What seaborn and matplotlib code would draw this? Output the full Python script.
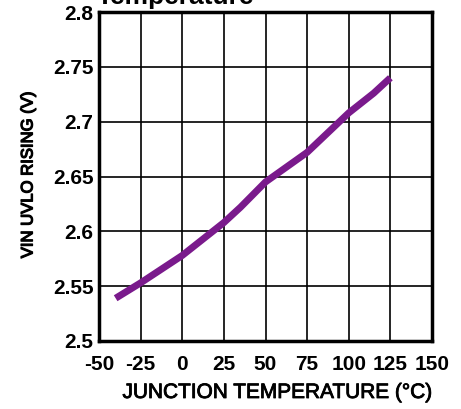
import matplotlib
matplotlib.use("Agg")
import matplotlib.pyplot as plt
from matplotlib import patheffects
import seaborn as sns
import pandas as pd

# Junction temperature (°C) vs VIN UVLO rising threshold (V)
temperature = [-40, -25, -10, 0, 25, 35, 50, 75, 100, 115, 125]
uvlo_rising = [2.539, 2.553, 2.568, 2.578, 2.608, 2.622, 2.645, 2.672, 2.708, 2.726, 2.740]

x_ticks = [-50, -25, 0, 25, 50, 75, 100, 125, 150]
x_tick_labels = ["-50", "-25", "0", "25", "50", "75", "100", "125", "150"]
y_ticks = [2.5, 2.55, 2.6, 2.65, 2.7, 2.75, 2.8]
y_tick_labels = ["2.5", "2.55", "2.6", "2.65", "2.7", "2.75", "2.8"]

sns.set_theme(style="white")
plt.rcParams["font.family"] = ["Liberation Sans", "DejaVu Sans"]

df = pd.DataFrame({"temp": temperature, "uvlo": uvlo_rising})

fig = plt.figure(figsize=(4.61, 4.09), dpi=100)
ax = fig.add_axes([99 / 461, 1 - 341 / 409, (432 - 99) / 461, (341 - 12) / 409])

sns.lineplot(data=df, x="temp", y="uvlo", ax=ax, color="#7a1a8c",
             linewidth=5, solid_capstyle="butt", zorder=3)

ax.set_xlim(-50, 150)
ax.set_ylim(2.5, 2.8)
ax.set_xticks(x_ticks)
ax.set_xticklabels(x_tick_labels, fontsize=15, fontweight="bold")
ax.set_yticks(y_ticks)
ax.set_yticklabels(y_tick_labels, fontsize=15, fontweight="bold")
ax.tick_params(axis="x", length=0, pad=10, colors="black")
ax.tick_params(axis="y", length=0, pad=4, colors="black")

ax.grid(True, color="black", linewidth=1.2)
for s in ax.spines.values():
    s.set_visible(True)
    s.set_color("black")
    s.set_linewidth(2.5)

ax.set_xlabel("")
ax.set_ylabel("")
thick = [patheffects.withStroke(linewidth=0.6, foreground="black")]
fig.text(278 / 461, 1 - 398 / 409, "JUNCTION TEMPERATURE (°C)", ha="center",
         va="baseline", fontsize=15, color="black", path_effects=thick)
fig.text(28 / 461, 1 - 175 / 409, "VIN UVLO RISING (V)", ha="center",
         va="center", rotation=90, fontsize=12, color="black",
         path_effects=[patheffects.withStroke(linewidth=0.9, foreground="black")])
fig.text(97 / 461, 1 - 4 / 409, "Temperature", ha="left", va="baseline",
         fontsize=19, fontweight="bold", color="black")

fig.savefig("out.png", dpi=100)
